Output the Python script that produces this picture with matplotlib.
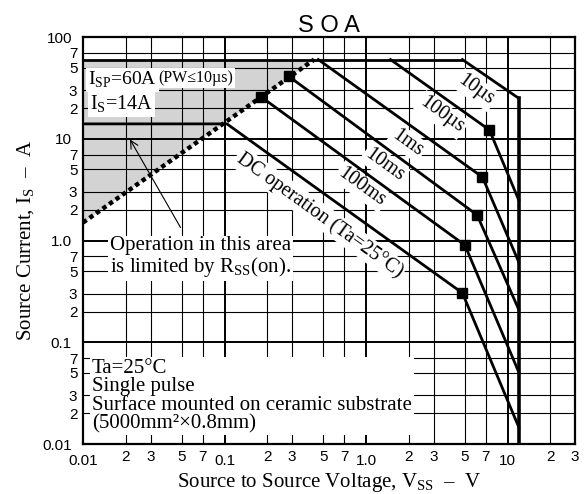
import matplotlib
matplotlib.use("Agg")
import matplotlib.pyplot as plt
from matplotlib.ticker import FixedLocator, FixedFormatter

plt.rcParams['font.family'] = ['Liberation Serif', 'DejaVu Serif']
plt.rcParams['mathtext.fontset'] = 'custom'
plt.rcParams['mathtext.rm'] = 'Liberation Serif'

# --- dane ---
isp_v = [0.01, 4.8]
isp_i = [60, 60]
us10_v = [4.8, 12]
us10_i = [60, 25]
vmax_v = [12, 12]
vmax_i = [25, 0.01]
us100_v = [1.49, 7.45, 12]
us100_i = [60, 12.2, 2.5]
ms1_v = [0.46, 6.65, 12]
ms1_i = [60, 4.2, 0.615]
ms10_v = [0.285, 6.1, 12]
ms10_i = [41, 1.78, 0.21]
ms100_v = [0.18, 5.0, 12]
ms100_i = [26, 0.9, 0.051]
dc_v = [0.01, 0.104, 4.8, 12]
dc_i = [14, 14, 0.305, 0.0147]
rss_v = [0.01, 0.43]
rss_i = [1.5, 60]
fill_v = [0.01, 0.01, 0.43]
fill_i = [1.5, 60, 60]
marker_v = [7.45, 6.65, 6.1, 5.0, 4.8, 0.285, 0.18]
marker_i = [12.2, 4.2, 1.78, 0.9, 0.305, 41, 26]

x_major = [0.01, 0.1, 1, 10]
x_major_lab = ["0.01", "0.1", "1.0", "10"]
x_minor = [0.02, 0.03, 0.05, 0.07, 0.2, 0.3, 0.5, 0.7, 2, 3, 5, 7, 20, 30]
x_minor_lab = ["2", "3", "5", "7", "2", "3", "5", "7", "2", "3", "5", "7", "2", "3"]
y_major = [0.01, 0.1, 1, 10, 100]
y_major_lab = ["0.01", "0.1", "1.0", "10", "100"]
y_minor = [0.02, 0.03, 0.05, 0.07, 0.2, 0.3, 0.5, 0.7, 2, 3, 5, 7, 20, 30, 50, 70]
y_minor_lab = ["2", "3", "5", "7"] * 4

# etykiety krzywych: tekst, V, I
curve_labels = ["10µs", "100µs", "1ms", "10ms", "100ms", "DC operation (Ta=25°C)"]
curve_lab_v = [6.0, 3.42, 1.97, 1.35, 0.93, 0.47]
curve_lab_i = [30, 17.1, 9.1, 5.5, 3.36, 1.78]

# --- wykres ---
fig = plt.figure(figsize=(5.87, 4.94), dpi=100)
ax = fig.add_axes([0.1414, 0.1012, 0.8382, 0.8239])
ax.set_xscale("log")
ax.set_yscale("log")
ax.set_xlim(0.01, 30)
ax.set_ylim(0.01, 100)

ax.fill(fill_v, fill_i, color="#d3d3d3", zorder=0.2, lw=0)

ax.xaxis.set_major_locator(FixedLocator(x_major))
ax.xaxis.set_major_formatter(FixedFormatter(x_major_lab))
ax.xaxis.set_minor_locator(FixedLocator(x_minor))
ax.xaxis.set_minor_formatter(FixedFormatter(x_minor_lab))
ax.yaxis.set_major_locator(FixedLocator(y_major))
ax.yaxis.set_major_formatter(FixedFormatter(y_major_lab))
ax.yaxis.set_minor_locator(FixedLocator(y_minor))
ax.yaxis.set_minor_formatter(FixedFormatter(y_minor_lab))

for lab in ax.get_xticklabels(which="both") + ax.get_yticklabels(which="both"):
    lab.set_family("Liberation Sans")
    lab.set_fontsize(11)
ax.tick_params(which="both", length=0)
ax.tick_params(axis="x", which="major", pad=7)
ax.tick_params(axis="x", which="minor", pad=4)
ax.tick_params(axis="y", which="major", pad=8)
ax.tick_params(axis="y", which="minor", pad=4)

ax.grid(True, which="major", color="black", lw=1.4)
ax.grid(True, which="minor", color="black", lw=0.8)
ax.set_axisbelow(True)
for s in ax.spines.values():
    s.set_linewidth(1.6)

lw = 2.0
ax.plot(isp_v, isp_i, color="black", lw=lw, zorder=3)
ax.plot(us10_v, us10_i, color="black", lw=lw, zorder=3)
ax.plot(vmax_v, vmax_i, color="black", lw=2.6, zorder=3)
ax.plot(us100_v, us100_i, color="black", lw=lw, zorder=3)
ax.plot(ms1_v, ms1_i, color="black", lw=lw, zorder=3)
ax.plot(ms10_v, ms10_i, color="black", lw=lw, zorder=3)
ax.plot(ms100_v, ms100_i, color="black", lw=lw, zorder=3)
ax.plot(dc_v, dc_i, color="black", lw=lw, zorder=3)
ax.plot(rss_v, rss_i, color="black", lw=3.2, ls=(0, (1.0, 0.8)), zorder=3)
ax.plot(marker_v, marker_i, "s", color="black", ms=6.5, zorder=4)

box = dict(facecolor="white", edgecolor="none", pad=1.5)
for t, v, i in zip(curve_labels, curve_lab_v, curve_lab_i):
    ax.text(v, i, t, fontsize=14.5, rotation=-35.7, rotation_mode="anchor",
            ha="center", va="center", bbox=box, zorder=5)

ax.text(0.010, 0.894, "I$_\\mathregular{SP}$=60A", transform=ax.transAxes,
        fontsize=14, ha="left", va="center", bbox=box, zorder=5)
ax.text(0.152, 0.900, "(PW≤10µs)", transform=ax.transAxes,
        fontsize=11.5, ha="left", va="center", bbox=box, zorder=5)
ax.text(0.014, 0.835, "I$_\\mathregular{S}$=14A", transform=ax.transAxes,
        fontsize=14.5, ha="left", va="center", bbox=box, zorder=5)

ax.annotate("", xy=(0.021, 10.4), xytext=(0.05, 1.27),
            arrowprops=dict(arrowstyle="->", color="black", lw=0.8,
                            mutation_scale=14), zorder=5)
ax.text(0.055, 0.458, "Operation in this area\nis limited by R$_\\mathregular{SS}$(on).",
        transform=ax.transAxes, fontsize=15, ha="left", va="center",
        linespacing=1.0, bbox=box, zorder=5)

ax.text(0.018, 0.118, "Ta=25°C\nSingle pulse\nSurface mounted on ceramic substrate\n(5000mm²×0.8mm)",
        transform=ax.transAxes, fontsize=15, ha="left", va="center",
        linespacing=0.95, bbox=box, zorder=5)

ax.set_xlabel("Source to Source Voltage, V$_\\mathregular{SS}$  –  V", fontsize=15, labelpad=2)
ax.set_ylabel("Source Current, I$_\\mathregular{S}$  –  A", fontsize=15, labelpad=4)
ax.set_title("S O A", family="Liberation Sans", fontsize=17, pad=3)

plt.savefig("out.png", dpi=100)
